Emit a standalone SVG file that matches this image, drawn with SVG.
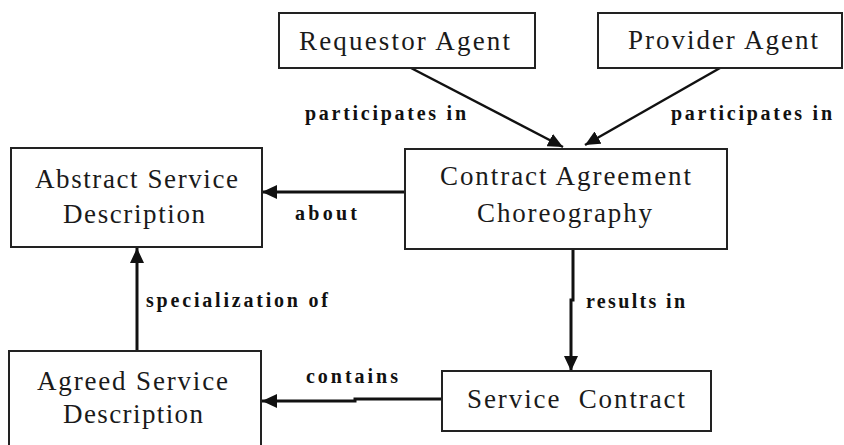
<svg xmlns="http://www.w3.org/2000/svg" width="844" height="445" viewBox="0 0 844 445">
<style>
.box{fill:#fff;stroke:#222;stroke-width:2}
.nt{font-size:27px;fill:#1a1a1a}
.lb{font-size:20px;font-weight:bold;fill:#111}
.ed{fill:none;stroke:#111;stroke-width:3}
.dg{fill:none;stroke:#111;stroke-width:2.5}
</style>
<defs>
<marker id="ah" markerUnits="userSpaceOnUse" markerWidth="16" markerHeight="14" refX="15" refY="7" orient="auto">
<path d="M0,0 L15,7 L0,14 z" fill="#111"/>
</marker>
</defs>
<rect width="844" height="445" fill="#fff"/>
<g font-family="Liberation Serif, Tinos, Times New Roman, Times, Noto Serif, DejaVu Serif, serif">
<g id="connectors">
<path class="dg" d="M411,68 L563,147" marker-end="url(#ah)"/>
<path class="dg" d="M720,68 L585,145" marker-end="url(#ah)"/>
<path class="ed" d="M405,192 L262,192" marker-end="url(#ah)"/>
<path class="ed" d="M137,351 L137,248" marker-end="url(#ah)"/>
<path class="ed" d="M573,249 L573,300 L571,300 L571,371" marker-end="url(#ah)"/>
<path class="ed" d="M442,399 L355,399 L355,401 L262,401" marker-end="url(#ah)"/>
<text class="lb" x="305" y="120" textLength="161" lengthAdjust="spacing">participates in</text>
<text class="lb" x="671" y="120" textLength="161" lengthAdjust="spacing">participates in</text>
<text class="lb" x="295" y="220" textLength="62" lengthAdjust="spacing">about</text>
<text class="lb" x="146" y="307" textLength="182" lengthAdjust="spacing">specialization of</text>
<text class="lb" x="586" y="308" textLength="99" lengthAdjust="spacing">results in</text>
<text class="lb" x="306" y="383" textLength="92" lengthAdjust="spacing">contains</text>
</g>
<g id="requestor">
<rect class="box" x="279" y="13" width="256" height="55"/>
<text class="nt" x="299" y="50" textLength="211" lengthAdjust="spacing">Requestor Agent</text>
</g>
<g id="provider">
<rect class="box" x="598" y="13" width="244" height="55"/>
<text class="nt" x="628" y="49" textLength="190" lengthAdjust="spacing">Provider Agent</text>
</g>
<g id="choreography">
<rect class="box" x="405" y="149" width="322" height="100"/>
<text class="nt" x="440" y="185" textLength="251" lengthAdjust="spacing">Contract Agreement</text>
<text class="nt" x="477" y="222" textLength="175" lengthAdjust="spacing">Choreography</text>
</g>
<g id="abstract">
<rect class="box" x="11" y="148" width="251" height="99"/>
<text class="nt" x="35" y="188" textLength="203" lengthAdjust="spacing">Abstract Service</text>
<text class="nt" x="63" y="223" textLength="142" lengthAdjust="spacing">Description</text>
</g>
<g id="agreed">
<rect class="box" x="9" y="351" width="252" height="100"/>
<text class="nt" x="37" y="390" textLength="191" lengthAdjust="spacing">Agreed Service</text>
<text class="nt" x="63" y="423" textLength="140" lengthAdjust="spacing">Description</text>
</g>
<g id="contract">
<rect class="box" x="442" y="371" width="269" height="60"/>
<text class="nt" x="467" y="408" textLength="218" lengthAdjust="spacing" xml:space="preserve">Service  Contract</text>
</g>
</g>
</svg>
